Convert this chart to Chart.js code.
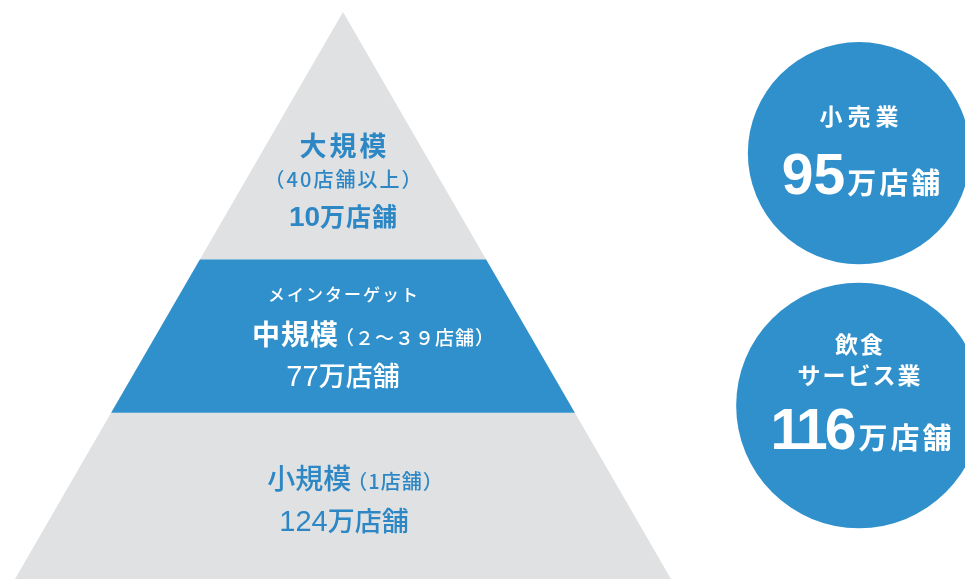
<!DOCTYPE html>
<html lang="ja">
<head>
<meta charset="utf-8">
<script src="https://cdn.jsdelivr.net/npm/chart.js@4/dist/chart.umd.min.js"></script>
<style>
  html, body { margin: 0; padding: 0; background: #fff; }
  #wrap { width: 965px; height: 579px; position: relative; }
</style>
</head>
<body>
<div id="wrap"><canvas id="pyramid"></canvas></div>
<script>
// 規模別の店舗数（万店舗）
const tierNames  = ['大規模', '中規模', '小規模'];
const tierRanges = ['（40店舗以上）', '（２～３９店舗）', '（1店舗）'];
const tierStores = [10, 77, 124];
// ピラミッドの段の境目（頂点 = 1, 底辺 = 0）
const tierLevels = [1, 0.564, 0.293, 0];
const targetNote = 'メインターゲット';

// 業種別の店舗数（万店舗）
const sectorNames  = [['小売業'], ['飲食', 'サービス業']];
const sectorStores = [95, 116];

const BLUE = '#2f90cc';
const GRAY = '#e0e1e3';
const TEXT_BLUE = '#2c87c4';
const FONT = '"Liberation Sans", "Noto Sans CJK JP", sans-serif';
const FONT_JP = '"Noto Sans CJK JP", sans-serif';

// 右側の円の並び（x は一列、y は段の高さ）
const sectorColumn = 1.573;
const sectorRows = [0.751, 0.306];
const RADIUS_K = 11.4;

const tierColors = [GRAY, BLUE, GRAY];

const tierDatasets = tierNames.map((name, i) => {
  const top = tierLevels[i], bottom = tierLevels[i + 1];
  return {
    label: name,
    data: [
      { x: -(1 - bottom), y: bottom },
      { x: -(1 - top), y: top },
      { x: 1 - top, y: top },
      { x: 1 - bottom, y: bottom },
    ],
    backgroundColor: tierColors[i],
    borderColor: 'rgba(0,0,0,0)',
    borderWidth: 0,
    pointRadius: 0,
    tension: 0,
    fill: { value: bottom },
  };
});

const sectorDataset = {
  type: 'bubble',
  label: '業種',
  data: sectorStores.map((v, i) => ({ x: sectorColumn, y: sectorRows[i], r: Math.sqrt(v) * RADIUS_K })),
  backgroundColor: BLUE,
  borderWidth: 0,
  clip: false,
};

function font(size, weight = 'bold', family = FONT) {
  return `${weight} ${size}px ${family}`;
}

// 文字の塊を横に並べて中央揃えで描く
function drawRuns(ctx, runs, cx, y, color) {
  const widths = runs.map(r => {
    ctx.font = r.font;
    ctx.letterSpacing = (r.spacing || 0) + 'px';
    return ctx.measureText(r.text).width - (r.spacing || 0);
  });
  const gaps = runs.map(r => r.gap || 0);
  const total = widths.reduce((a, b) => a + b, 0) + gaps.reduce((a, b) => a + b, 0);
  let x = cx - total / 2;
  ctx.fillStyle = color;
  ctx.textAlign = 'left';
  runs.forEach((r, i) => {
    x += gaps[i];
    ctx.font = r.font;
    ctx.letterSpacing = (r.spacing || 0) + 'px';
    ctx.fillText(r.text, x, y);
    x += widths[i];
  });
  ctx.letterSpacing = '0px';
}

const labelPlugin = {
  id: 'pyramidLabels',
  afterDatasetsDraw(chart) {
    const { ctx, scales: { x, y } } = chart;
    const cx = x.getPixelForValue(0);
    const bottoms = tierLevels.slice(1).map(l => y.getPixelForValue(l));
    ctx.save();
    ctx.textBaseline = 'alphabetic';

    // 大規模
    let b = bottoms[0];
    drawRuns(ctx, [{ text: tierNames[0], font: font(27, 'bold', FONT_JP), spacing: 3 }], cx, b - 103, TEXT_BLUE);
    drawRuns(ctx, [{ text: tierRanges[0], font: font(20, 500, FONT_JP), spacing: 2 }], cx, b - 72, TEXT_BLUE);
    drawRuns(ctx, [
      { text: String(tierStores[0]), font: font(28) },
      { text: '万店舗', font: font(25, 'bold', FONT_JP), spacing: 1 },
    ], cx, b - 33, TEXT_BLUE);

    // 中規模（メインターゲット）
    b = bottoms[1];
    drawRuns(ctx, [{ text: targetNote, font: font(17, 500, FONT_JP), spacing: 2 }], cx, b - 112, '#fff');
    drawRuns(ctx, [
      { text: tierNames[1], font: font(28, 'bold', FONT_JP), spacing: 1 },
      { text: tierRanges[1], font: font(19, 500, FONT_JP), spacing: 1, gap: -3 },
    ], cx + 30, b - 68, '#fff');
    drawRuns(ctx, [
      { text: String(tierStores[1]), font: font(29, 'normal') },
      { text: '万店舗', font: font(27, 500, FONT_JP) },
    ], cx, b - 27, '#fff');

    // 小規模
    b = bottoms[2];
    drawRuns(ctx, [
      { text: tierNames[2], font: font(28, 500, FONT_JP), spacing: 0 },
      { text: tierRanges[2], font: font(20, 500, FONT_JP), spacing: 1, gap: -4 },
    ], cx + 12, b - 90, TEXT_BLUE);
    drawRuns(ctx, [
      { text: String(tierStores[2]), font: font(29, 500) },
      { text: '万店舗', font: font(27, 500, FONT_JP) },
    ], cx + 1, b - 48, TEXT_BLUE);

    // 業種の円
    const meta = chart.getDatasetMeta(tierNames.length);
    meta.data.forEach((pt, i) => {
      const names = sectorNames[i];
      const nameTop = names.length === 1 ? pt.y - 28 : pt.y - 52;
      names.forEach((n, j) => {
        drawRuns(ctx, [{ text: n, font: font(23, 'bold', FONT_JP), spacing: names.length === 1 ? 5 : 2 }], pt.x, nameTop + j * 31, '#fff');
      });
      const numY = names.length === 1 ? pt.y + 41 : pt.y + 44;
      drawRuns(ctx, [
        { text: String(sectorStores[i]), font: font(57), spacing: i === 1 ? -3 : 0 },
        { text: '万店舗', font: font(29, 'bold', FONT_JP), spacing: 3, gap: 2 },
      ], pt.x + 2, numY, '#fff');
    });
    ctx.restore();
  },
};

new Chart(document.getElementById('pyramid'), {
  type: 'line',
  data: { datasets: [...tierDatasets, sectorDataset] },
  options: {
    responsive: true,
    maintainAspectRatio: false,
    animation: false,
    events: [],
    layout: { padding: 0, autoPadding: false },
    plugins: {
      legend: { display: false },
      tooltip: { enabled: false },
    },
    scales: {
      x: { type: 'linear', min: -343 / 328, max: 622 / 328, display: false },
      y: { type: 'linear', min: 0, max: 579 / 567, display: false },
    },
  },
  plugins: [labelPlugin],
});
</script>
</body>
</html>
